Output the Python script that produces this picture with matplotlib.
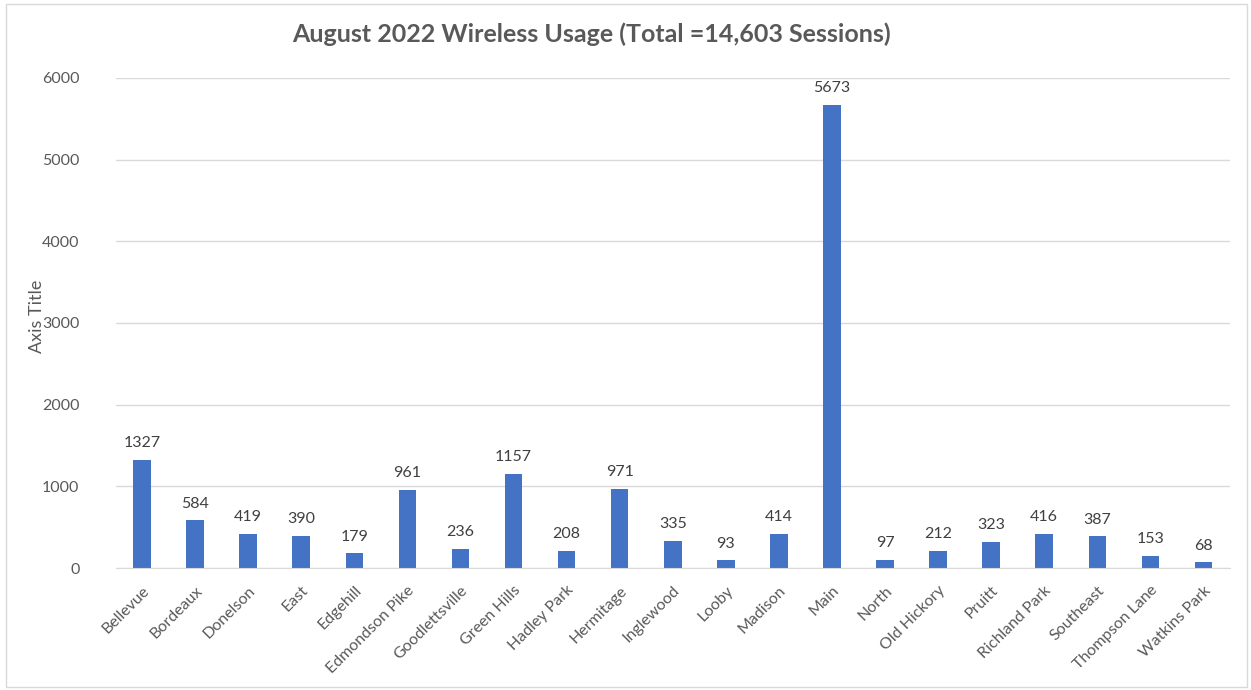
import matplotlib.pyplot as plt
import numpy as np
from matplotlib.patches import Rectangle

plt.rcParams["font.family"] = ["Lato", "DejaVu Sans"]

# branch names and session counts
branches = [
    "Bellevue", "Bordeaux", "Donelson", "East", "Edgehill", "Edmondson Pike",
    "Goodlettsville", "Green Hills", "Hadley Park", "Hermitage", "Inglewood",
    "Looby", "Madison", "Main", "North", "Old Hickory", "Pruitt",
    "Richland Park", "Southeast", "Thompson Lane", "Watkins Park",
]
sessions = [
    1327, 584, 419, 390, 179, 961, 236, 1157, 208, 971, 335,
    93, 414, 5673, 97, 212, 323, 416, 387, 153, 68,
]
y_ticks = [0, 1000, 2000, 3000, 4000, 5000, 6000]

TEXT = "#595959"
GRID = "#d9d9d9"
BAR = "#4472c4"

fig = plt.figure(figsize=(12.51, 6.90), dpi=100)
ax = fig.add_axes([115.5 / 1251, 1 - 568 / 690, 1114.5 / 1251, 490 / 690])

x = np.arange(len(branches))
bars = ax.bar(x, sessions, width=0.33, color=BAR, zorder=3)

for xi, v in zip(x, sessions):
    ax.annotate(str(v), (xi, v), xytext=(0, 7), textcoords="offset points",
                ha="center", va="bottom", fontsize=11.5, color="#404040")

ax.set_xlim(-0.5, len(branches) - 0.5)
ax.set_ylim(0, 6000)
ax.set_yticks(y_ticks)
ax.set_yticklabels([str(t) for t in y_ticks], fontsize=11.5, color=TEXT)
ax.set_xticks(x)
ax.set_xticklabels(branches, rotation=45, ha="right", rotation_mode="anchor",
                   fontsize=11.5, color=TEXT)
ax.tick_params(axis="both", length=0)
ax.tick_params(axis="y", pad=26)
ax.tick_params(axis="x", pad=11)

ax.grid(axis="y", color=GRID, linewidth=1, zorder=0)
for side in ["top", "right", "left"]:
    ax.spines[side].set_visible(False)
ax.spines["bottom"].set_color(GRID)
ax.spines["bottom"].set_zorder(4)

ax.set_ylabel("Axis Title", fontsize=13, color=TEXT)
ax.yaxis.set_label_coords(-70 / 1114.5, 252 / 490)

fig.text(591 / 1251, 1 - 34 / 690, "August 2022 Wireless Usage (Total =14,603 Sessions)",
         ha="center", va="center", fontsize=18, fontweight="bold", color=TEXT)

# light frame round the whole chart
fig.patches.append(Rectangle((6 / 1251, 3 / 690), 1241 / 1251, 683 / 690,
                             transform=fig.transFigure, fill=False,
                             edgecolor="#d9d9d9", linewidth=1))

fig.savefig("out.png", dpi=100, facecolor="white")
